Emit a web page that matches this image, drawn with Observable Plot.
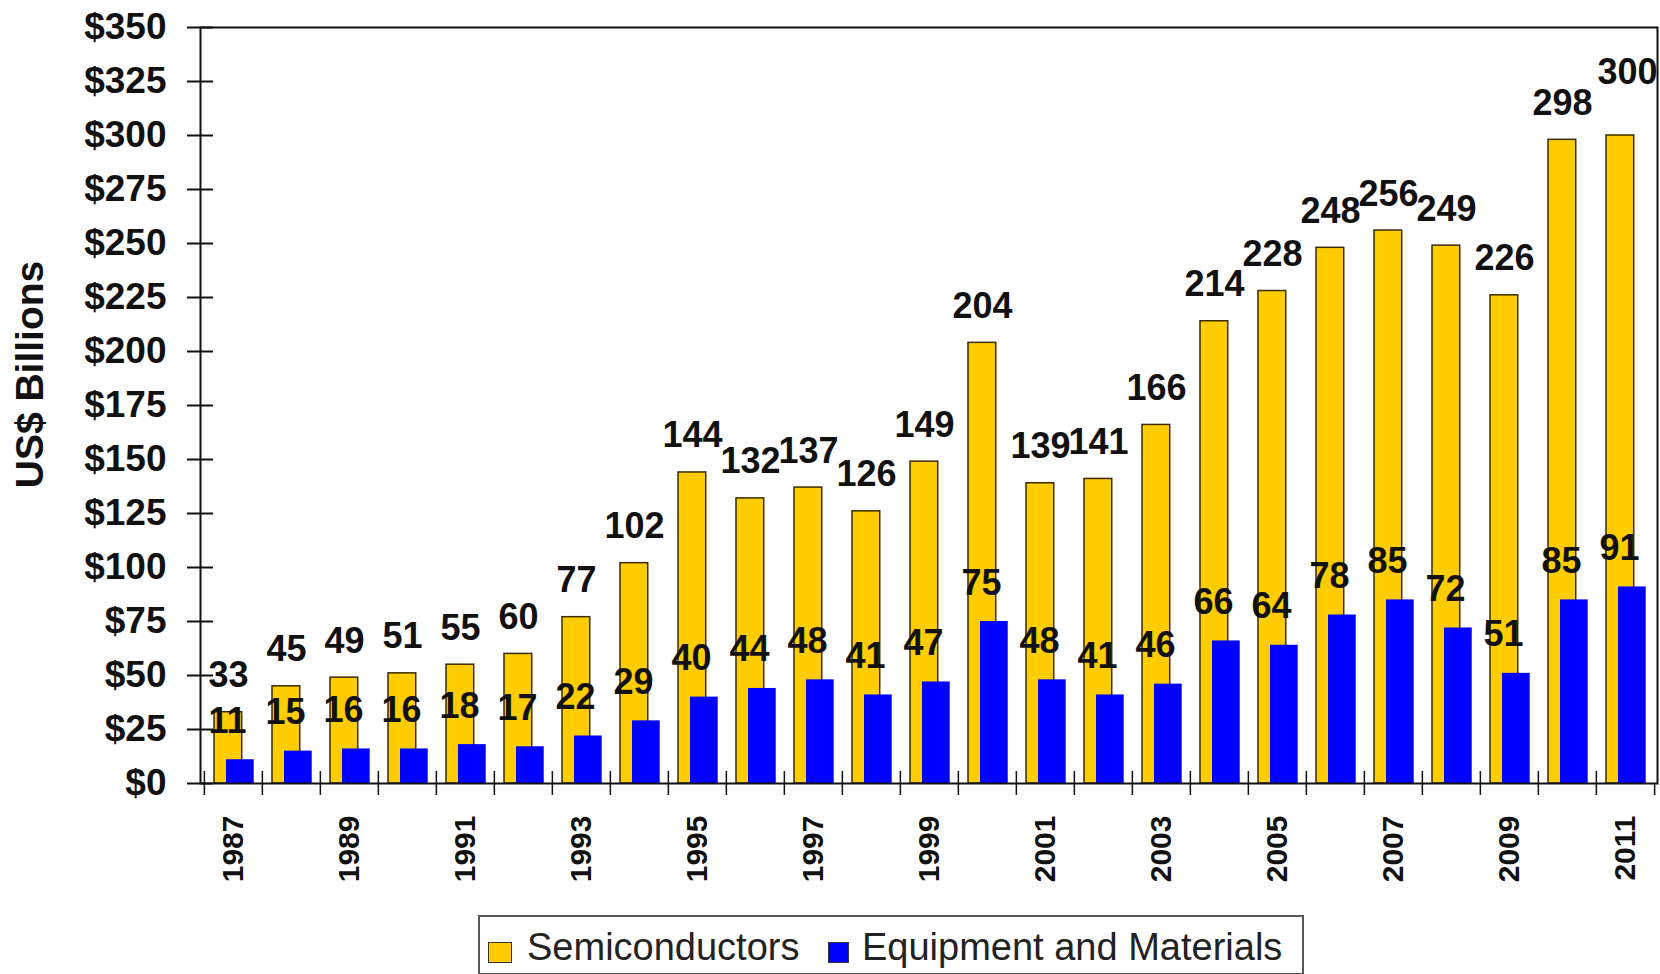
<!DOCTYPE html>
<html>
<head>
<meta charset="utf-8">
<script src="https://cdn.jsdelivr.net/npm/d3@7"></script>
<script src="https://cdn.jsdelivr.net/npm/@observablehq/plot@0.6"></script>
<style>
  html, body { margin: 0; padding: 0; background: #fff; }
  #wrap { position: relative; width: 1660px; height: 974px; overflow: hidden; font-family: "Liberation Sans", Arial, sans-serif; }
  #legend { position: absolute; left: 478px; top: 915px; width: 822px; height: 56px; border: 2px solid #555; background: #fff; }
  .sw { position: absolute; top: 25px; height: 19px; border: 1.5px solid #333; }
  .lt { position: absolute; top: 11px; font-size: 38px; line-height: 38px; color: #222; white-space: nowrap; }
</style>
</head>
<body>
<div id="wrap"><div id="chart"></div>
  <div id="legend"></div>
</div>
<script>
const years = [1987,1988,1989,1990,1991,1992,1993,1994,1995,1996,1997,1998,1999,2000,2001,2002,2003,2004,2005,2006,2007,2008,2009,2010,2011];
const semiconductors = [33,45,49,51,55,60,77,102,144,132,137,126,149,204,139,141,166,214,228,248,256,249,226,298,300];
const equipment = [11,15,16,16,18,17,22,29,40,44,48,41,47,75,48,41,46,66,64,78,85,72,51,85,91];
const yTicks = [0,25,50,75,100,125,150,175,200,225,250,275,300,325,350];
const labelYears = [1987,1989,1991,1993,1995,1997,1999,2001,2003,2005,2007,2009,2011];
const seriesNames = ["Semiconductors", "Equipment and Materials"];
const colors = ["#FFCC00", "#0000FF"];
const yTitle = "US$ Billions";

const data = years.map((y, i) => ({year: y, semi: semiconductors[i], equip: equipment[i]}));
const lastYear = years[years.length - 1];

const W = 1660, H = 905, mL = 200, mR = 3, mT = 27, mB = 122;
const bw = (W - mL - mR) / years.length;

const chart = Plot.plot({
  width: W,
  height: H,
  marginLeft: mL,
  marginRight: mR,
  marginTop: mT,
  marginBottom: mB,
  style: {fontFamily: "Liberation Sans, Arial, sans-serif", fontWeight: "bold", color: "#111", background: "#fff", overflow: "visible"},
  x: {domain: years, padding: 0},
  y: {domain: [0, 350]},
  marks: [
    Plot.barY(data, {x: "year", y: "semi", fill: colors[0], stroke: "#3a2c00", strokeWidth: 1.5, insetLeft: 10, insetRight: bw - 38}),
    Plot.barY(data, {x: "year", y: "equip", fill: colors[1], insetLeft: 22, insetRight: bw - 50}),
    Plot.frame({stroke: "#111", strokeWidth: 2}),
    Plot.axisY({ticks: yTicks, tickFormat: d => "$" + d, tickSize: 13, tickPadding: 21, fontSize: 37, label: null, stroke: "#111", strokeWidth: 2}),
    Plot.axisY({ticks: yTicks, tickFormat: () => "", tickSize: 13, dx: 13, label: null, stroke: "#111", strokeWidth: 2}),
    Plot.axisX({ticks: years, tickFormat: () => "", tickSize: 12, dx: -bw / 2, label: null, stroke: "#111", strokeWidth: 1.5}),
    Plot.axisX({ticks: years, tickFormat: () => "", tickSize: 12, dy: -12, dx: -bw / 2, label: null, stroke: "#111", strokeWidth: 1.5}),
    Plot.axisX({ticks: [lastYear], tickFormat: () => "", tickSize: 12, dx: bw / 2, label: null, stroke: "#111", strokeWidth: 1.5}),
    Plot.axisX({ticks: labelYears, tickFormat: d => String(d), tickSize: 0, tickPadding: 32, tickRotate: -90, fontSize: 30, label: null}),
    Plot.text(data.filter(d => d.year !== lastYear), {x: "year", y: "semi", text: d => String(d.semi), dx: -5, dy: -25, lineAnchor: "bottom", fontSize: 36, fill: "#111"}),
    Plot.text(data.filter(d => d.year === lastYear), {x: "year", y: "semi", text: d => String(d.semi), dx: 2, dy: -52, lineAnchor: "bottom", fontSize: 36, fill: "#111"}),
    Plot.text(data, {x: "year", y: "equip", text: d => String(d.equip), dx: -6, dy: -27, lineAnchor: "bottom", fontSize: 36, fill: "#111"}),
    Plot.text([yTitle], {frameAnchor: "left", textAnchor: "middle", rotate: -90, dx: -170, dy: -31, fontSize: 39, fill: "#111"})
  ]
});
document.getElementById("chart").appendChild(chart);

const legend = document.getElementById("legend");
const items = [
  {name: seriesNames[0], color: colors[0], sx: 8, sw: 22, tx: 47},
  {name: seriesNames[1], color: colors[1], sx: 348, sw: 19, tx: 382}
];
for (const it of items) {
  const s = document.createElement("div");
  s.className = "sw";
  s.style.left = it.sx + "px";
  s.style.width = it.sw + "px";
  s.style.background = it.color;
  legend.appendChild(s);
  const t = document.createElement("div");
  t.className = "lt";
  t.style.left = it.tx + "px";
  t.textContent = it.name;
  legend.appendChild(t);
}
</script>
</body>
</html>
